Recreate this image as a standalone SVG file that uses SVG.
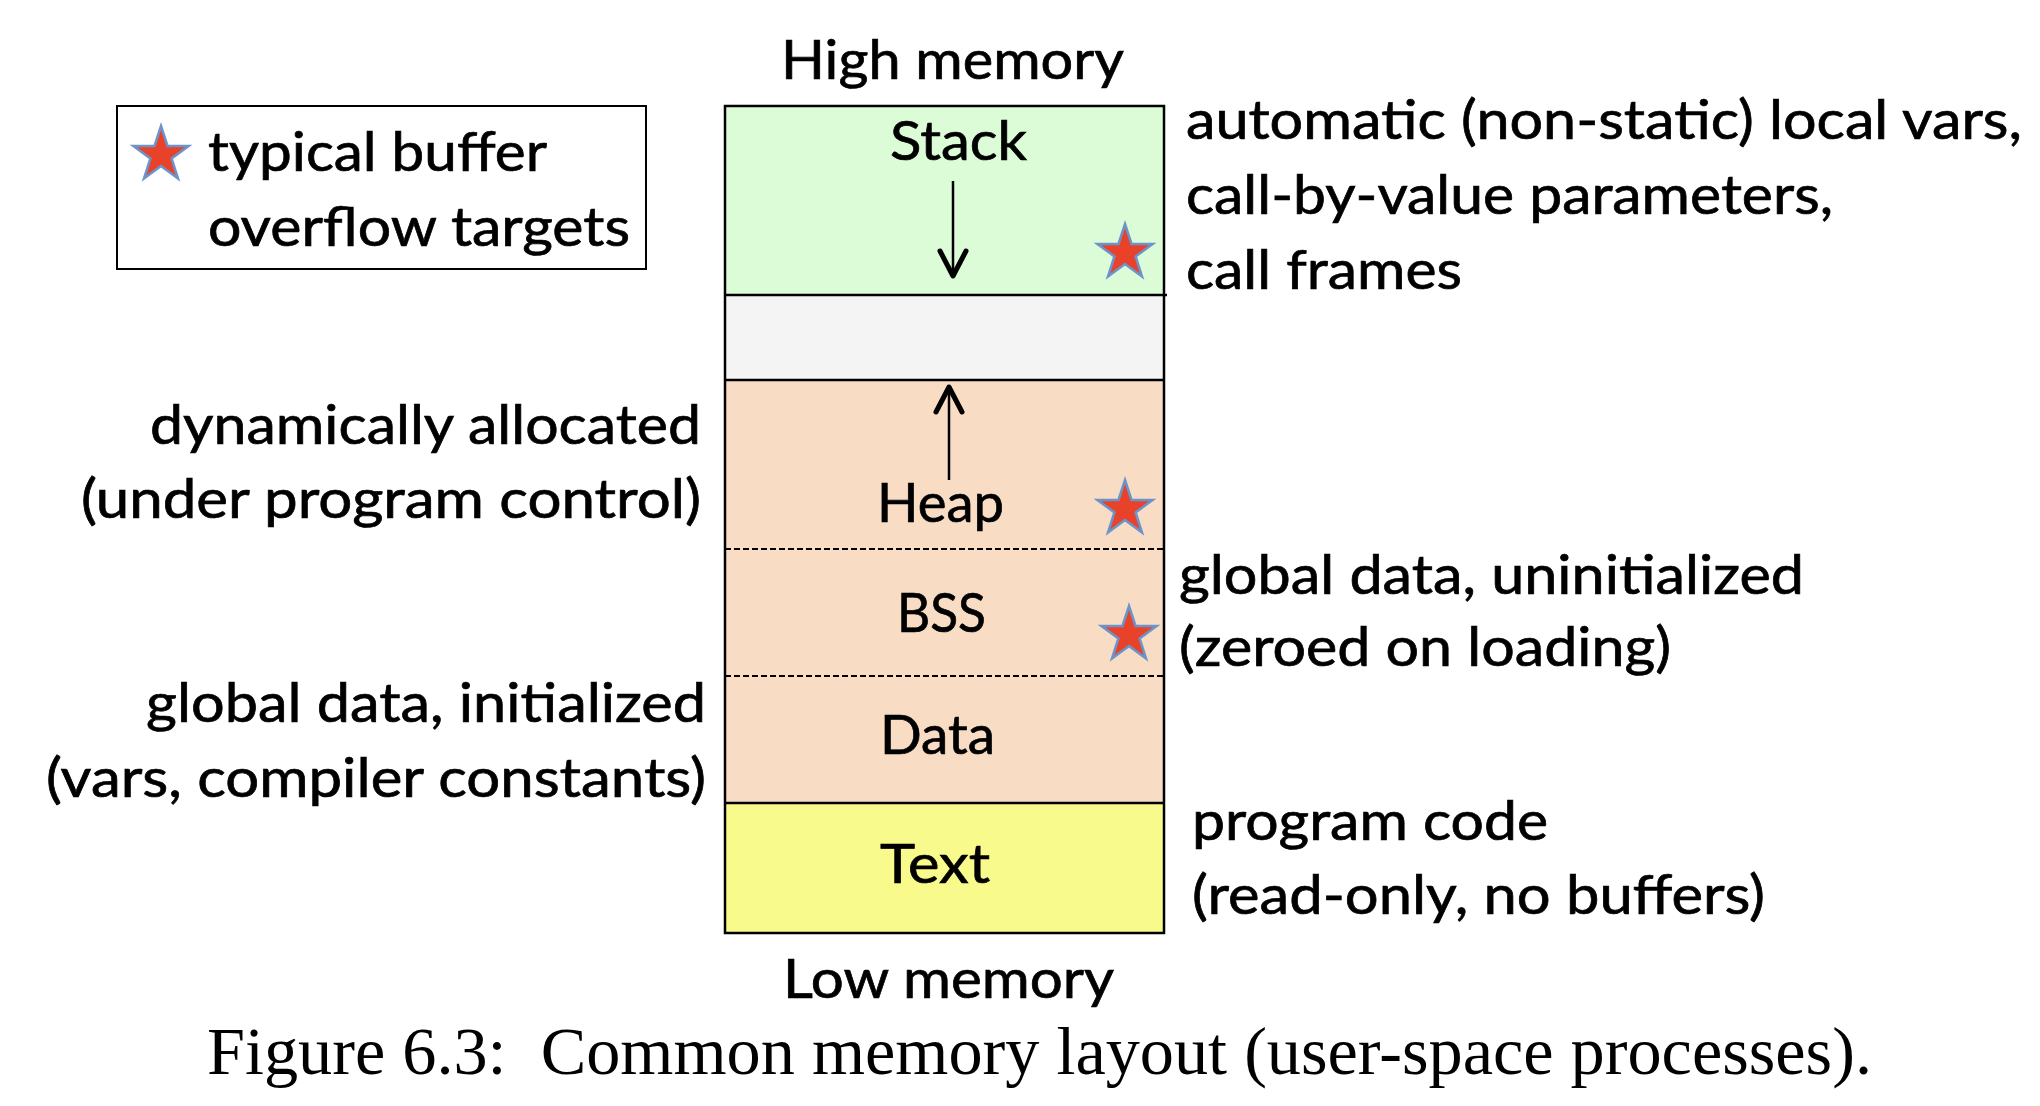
<svg xmlns="http://www.w3.org/2000/svg" xmlns:xlink="http://www.w3.org/1999/xlink" width="2040" height="1106" viewBox="0 0 2040 1106">
<style>
.t{font-family:Lato,"Open Sans","Liberation Sans",sans-serif;font-size:54px;fill:#000;stroke:#000;stroke-width:0.7px}
.cap{font-family:"Liberation Serif","DejaVu Serif",serif;font-size:68px;fill:#000;white-space:pre}
.seg{stroke:none}
.sep{stroke:#000;stroke-width:2.5;fill:none}
.dash{stroke:#000;stroke-width:2;stroke-dasharray:6 3;fill:none}
.star{fill:#e8432a;stroke:#6c94cc;stroke-width:2.5;stroke-linejoin:miter}
.arr{stroke:#000;stroke-width:2.5;fill:none}
</style>
<defs>
<polygon id="star" class="star" points="0,-29 6.5,-9 27.6,-9 10.6,3.4 17,23.5 0,11.1 -17,23.5 -10.6,3.4 -27.6,-9 -6.5,-9"/>
<marker id="vee" markerUnits="userSpaceOnUse" markerWidth="40" markerHeight="40" viewBox="0 0 40 40" refX="30" refY="20" orient="auto">
<path d="M4,7 L29,20 L4,33" fill="none" stroke="#000" stroke-width="5" stroke-linejoin="round" stroke-linecap="round"/>
</marker>
</defs>
<rect width="2040" height="1106" fill="#fff"/>

<g id="legend">
<rect x="117" y="106" width="529" height="163" fill="#fff" stroke="#000" stroke-width="2"/>
<use xlink:href="#star" href="#star" x="161" y="155"/>
<text class="t" x="208" y="171" textLength="339" lengthAdjust="spacingAndGlyphs">typical buffer</text>
<text class="t" x="208" y="246" textLength="422" lengthAdjust="spacingAndGlyphs">overflow targets</text>
</g>

<g id="high-memory">
<text class="t" x="781" y="79" textLength="343" lengthAdjust="spacingAndGlyphs">High memory</text>
</g>

<g id="stack">
<rect class="seg" x="725" y="106" width="439" height="189" fill="#dcfbd7"/>
<text class="t" x="890" y="160" textLength="137" lengthAdjust="spacingAndGlyphs">Stack</text>
<use xlink:href="#star" href="#star" x="1125" y="253"/>
</g>

<g id="gap">
<rect class="seg" x="725" y="295" width="439" height="85" fill="#f4f4f4"/>
</g>

<g id="heap">
<rect class="seg" x="725" y="380" width="439" height="169" fill="#f8dcc4"/>
<text class="t" x="877" y="522" textLength="127" lengthAdjust="spacingAndGlyphs">Heap</text>
<use xlink:href="#star" href="#star" x="1125" y="509"/>
</g>

<g id="bss">
<rect class="seg" x="725" y="549" width="439" height="127" fill="#f8dcc4"/>
<text class="t" x="897" y="632" textLength="89" lengthAdjust="spacingAndGlyphs">BSS</text>
<use xlink:href="#star" href="#star" x="1129" y="635"/>
</g>

<g id="data">
<rect class="seg" x="725" y="676" width="439" height="127" fill="#f8dcc4"/>
<text class="t" x="880" y="754" textLength="115" lengthAdjust="spacingAndGlyphs">Data</text>
</g>

<g id="text-seg">
<rect class="seg" x="725" y="803" width="439" height="130" fill="#f9fa8c"/>
<text class="t" x="880" y="883" textLength="110" lengthAdjust="spacingAndGlyphs">Text</text>
</g>

<g id="column-lines">
<rect x="725" y="106" width="439" height="827" fill="none" stroke="#000" stroke-width="2.5"/>
<line class="sep" x1="725" y1="295" x2="1167" y2="295"/>
<line class="sep" x1="725" y1="380" x2="1164" y2="380"/>
<line class="dash" x1="725" y1="549" x2="1164" y2="549"/>
<line class="dash" x1="725" y1="676" x2="1164" y2="676"/>
<line class="sep" x1="725" y1="803" x2="1164" y2="803"/>
</g>

<g id="low-memory">
<text class="t" x="783" y="998" textLength="331" lengthAdjust="spacingAndGlyphs">Low memory</text>
</g>

<g id="connectors">
<line class="arr" x1="953" y1="181" x2="953" y2="277" marker-end="url(#vee)"/>
<line class="arr" x1="949" y1="480" x2="949" y2="386" marker-end="url(#vee)"/>
</g>

<g id="label-stack">
<text class="t" x="1186" y="139" textLength="836" lengthAdjust="spacingAndGlyphs">automatic (non-static) local vars,</text>
<text class="t" x="1186" y="214" textLength="647" lengthAdjust="spacingAndGlyphs">call-by-value parameters,</text>
<text class="t" x="1186" y="289" textLength="276" lengthAdjust="spacingAndGlyphs">call frames</text>
</g>

<g id="label-heap">
<text class="t" x="150" y="444" textLength="551" lengthAdjust="spacingAndGlyphs">dynamically allocated</text>
<text class="t" x="81" y="518" textLength="620" lengthAdjust="spacingAndGlyphs">(under program control)</text>
</g>

<g id="label-bss">
<text class="t" x="1179" y="594" textLength="625" lengthAdjust="spacingAndGlyphs">global data, uninitialized</text>
<text class="t" x="1179" y="666" textLength="492" lengthAdjust="spacingAndGlyphs">(zeroed on loading)</text>
</g>

<g id="label-data">
<text class="t" x="146" y="722" textLength="560" lengthAdjust="spacingAndGlyphs">global data, initialized</text>
<text class="t" x="46" y="797" textLength="660" lengthAdjust="spacingAndGlyphs">(vars, compiler constants)</text>
</g>

<g id="label-text">
<text class="t" x="1192" y="840" textLength="356" lengthAdjust="spacingAndGlyphs">program code</text>
<text class="t" x="1192" y="914" textLength="573" lengthAdjust="spacingAndGlyphs">(read-only, no buffers)</text>
</g>

<g id="caption">
<text class="cap" xml:space="preserve" x="207" y="1074" textLength="1665" lengthAdjust="spacingAndGlyphs">Figure 6.3:  Common memory layout (user-space processes).</text>
</g>
</svg>
